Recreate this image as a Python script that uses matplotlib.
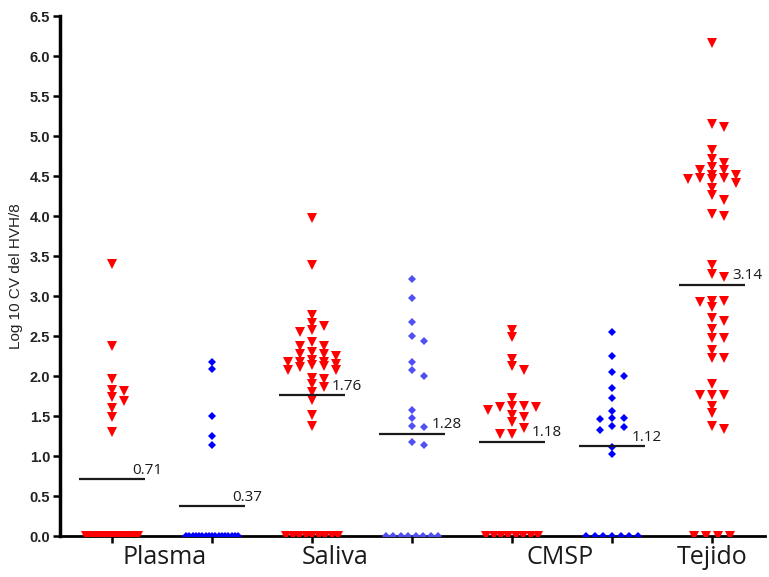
import numpy as np
import matplotlib
matplotlib.use("Agg")
import matplotlib.pyplot as plt
import matplotlib.transforms as mtransforms

# log10 copies per group; red = triangles, blue = diamonds
plasma_red = [3.40, 2.38, 1.96, 1.83, 1.81, 1.74, 1.69, 1.60, 1.49, 1.30] + [0.0] * 17
plasma_blue = [2.18, 2.09, 1.50, 1.25, 1.14] + [0.0] * 17
saliva_red = [3.98, 3.39, 2.76, 2.66, 2.62, 2.57, 2.55, 2.43, 2.38, 2.37, 2.30,
              2.27, 2.25, 2.28, 2.18, 2.18, 2.20, 2.18, 2.12, 2.11, 2.08, 2.08,
              2.15, 2.14, 1.98, 1.96, 1.90, 1.86, 1.80, 1.70, 1.51, 1.37] + [0.0] * 9
saliva_blue = [3.21, 2.98, 2.68, 2.50, 2.44, 2.18, 2.07, 2.00, 1.58, 1.48, 1.36,
               1.37, 1.17, 1.14] + [0.0] * 8
cmsp_red = [2.58, 2.49, 2.21, 2.08, 2.12, 1.72, 1.61, 1.58, 1.63, 1.62, 1.61,
            1.49, 1.51, 1.42, 1.35, 1.28, 1.28] + [0.0] * 8
cmsp_blue = [2.55, 2.25, 2.05, 2.00, 1.85, 1.73, 1.56, 1.47, 1.48, 1.46, 1.37,
             1.36, 1.33, 1.11, 1.03] + [0.0] * 7
tejido_red = [6.16, 5.12, 5.15, 4.83, 4.72, 4.67, 4.58, 4.58, 4.61, 4.48, 4.51,
              4.46, 4.52, 4.47, 4.48, 4.42, 4.35, 4.20, 4.26, 4.03, 4.00, 3.39,
              3.24, 3.28, 2.94, 2.92, 2.86, 2.94, 2.69, 2.72, 2.59, 2.47, 2.47,
              2.33, 2.22, 2.22, 1.90, 1.76, 1.76, 1.76, 1.62, 1.54, 1.37, 1.34] + [0.0] * 4

series = [plasma_red, plasma_blue, saliva_red, saliva_blue, cmsp_red, cmsp_blue, tejido_red]
means = [0.71, 0.37, 1.76, 1.28, 1.18, 1.12, 3.14]
kinds = ["red", "blue", "red", "lightblue", "red", "blue", "red"]

group_names = ["Plasma", "Saliva", "CMSP", "Tejido"]
group_label_x = [0.53, 2.23, 4.48, 6.0]

yticks = [0.0, 0.5, 1.0, 1.5, 2.0, 2.5, 3.0, 3.5, 4.0, 4.5, 5.0, 5.5, 6.0, 6.5]
ylabel = "Log 10 CV del HVH/8"

styles = {
    "red": dict(marker="v", color="#ff0000", markersize=7.2),
    "blue": dict(marker="D", color="#0000ff", markersize=4.2),
    "lightblue": dict(marker="D", color="#5050f5", markersize=4.2),
}


def swarm(vals, grid=0.06, wx=0.11, dy=0.075, half_width=0.25):
    """Horizontal offsets so that markers in a column don't pile up."""
    vals = np.asarray(vals, dtype=float)
    offs = np.zeros(len(vals))
    zero = vals == 0
    n0 = zero.sum()
    if n0 > 1:
        w = min((n0 - 1) * 0.12, 2 * half_width + 0.02)
        offs[zero] = np.linspace(-w / 2, w / 2, n0)
    placed = []
    kmax = int(round(half_width / grid))
    cands = [0]
    for k in range(1, kmax + 1):
        cands += [k, -k]
    for i in np.argsort(-vals):
        if zero[i]:
            continue
        best, best_gap = 0.0, -1.0
        for k in cands:
            x = k * grid
            near = [abs(vals[i] - pv) for px, pv in placed if abs(x - px) < wx]
            gap = min(near) if near else np.inf
            if gap >= dy:
                best = x
                break
            if gap > best_gap:
                best, best_gap = x, gap
        offs[i] = best
        placed.append((best, vals[i]))
    return offs


fig = plt.figure(figsize=(7.69, 5.77), dpi=100)
ax = fig.add_axes([0.078, 0.071, 0.917, 0.901])

for pos, (vals, kind, m) in enumerate(zip(series, kinds, means)):
    offs = swarm(vals)
    ax.plot(pos + offs, vals, linestyle="none", markeredgewidth=0, **styles[kind], clip_on=True, zorder=3)
    ax.hlines(m, pos - 0.33, pos + 0.33, color="#1a1a1a", linewidth=1.6, zorder=4)
    ax.text(pos + 0.2, m + 0.02, f"{m:.2f}", fontsize=11, family="Open Sans",
            color="#1a1a1a", ha="left", va="bottom", zorder=5)

ax.set_xlim(-0.52, 6.53)
ax.set_ylim(0, 6.5)
ax.set_xticks(range(len(series)))
ax.set_xticklabels([])
ax.set_yticks(yticks)
ax.set_yticklabels([f"{t:.1f}" for t in yticks], fontsize=10.5, fontweight="bold",
                   family="Liberation Sans", color="#222222")
ax.tick_params(axis="both", direction="out", length=5, width=1.8, color="black")
ax.tick_params(axis="y", pad=2)

for side in ["top", "right"]:
    ax.spines[side].set_visible(False)
ax.spines["left"].set_linewidth(2.5)
ax.spines["bottom"].set_linewidth(2.0)

ax.set_ylabel(ylabel, fontsize=11, family="Liberation Sans", color="#222222", labelpad=5)

trans = mtransforms.blended_transform_factory(ax.transData, ax.transAxes)
for name, x in zip(group_names, group_label_x):
    ax.text(x, -0.041, name, transform=trans, fontsize=18, family="Open Sans",
            color="#1a1a1a", ha="center", va="center")

fig.savefig("out.png", dpi=100)
